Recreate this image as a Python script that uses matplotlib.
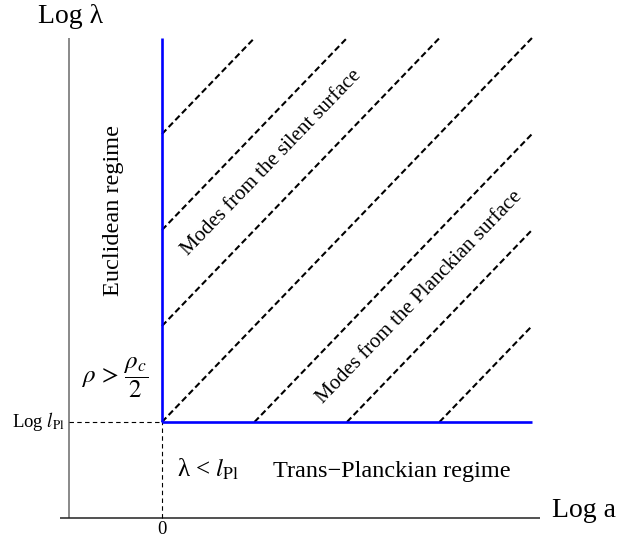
import numpy as np
import matplotlib
matplotlib.use("Agg")
import matplotlib.pyplot as plt

plt.rcParams['font.family'] = ['Liberation Serif', 'DejaVu Serif']
plt.rcParams['mathtext.fontset'] = 'stix'

# box of the diagram (log a from 0 to size, log lambda from 0 to size)
size = 4
# offsets c of the mode lines  log(lambda) = log(a) + c
offsets = [-3, -2, -1, 0, 1, 2, 3]
axis_origin = -1

fig = plt.figure(figsize=(6.19, 5.37), dpi=100)
ax = fig.add_axes([0, 0, 1, 1])
ax.set_xlim(-1.751, 4.941)
ax.set_ylim(-1.198, 4.396)
ax.axis('off')

# axes of the diagram
ax.plot([axis_origin, axis_origin], [axis_origin, size], color='#808080', lw=1.3,
        solid_capstyle='butt')
ax.plot([-1.1, 4.086], [axis_origin, axis_origin], color='#222222', lw=1.1,
        solid_capstyle='butt')

# mode lines
for c in offsets:
    x0 = max(0, -c)
    x1 = min(size, size - c)
    ax.plot([x0, x1], [x0 + c, x1 + c], color='black', lw=1.5,
            linestyle=(0, (3, 1.6)))

# Planck marks
ax.plot([axis_origin, 0], [0, 0], color='black', lw=0.8, linestyle=(0, (4, 3)))
ax.plot([0, 0], [axis_origin, 0], color='black', lw=0.8, linestyle=(0, (4, 3)))

# regime borders
ax.plot([0, 0], [0, size], color='blue', lw=1.9, solid_capstyle='butt')
ax.plot([0, size], [0, 0], color='blue', lw=1.9, solid_capstyle='butt')

ang = np.degrees(np.arctan2(96, 92.5))

ax.text(-1.341, 4.156, 'Log λ', fontsize=20, ha='left', va='baseline')
ax.text(4.216, -0.99, 'Log a', fontsize=20, ha='left', va='baseline')
ax.text(-1.05, 0, r'Log $l_{\mathrm{Pl}}$', fontsize=13.5, ha='right', va='center')
ax.text(0, -1.03, '0', fontsize=13.5, ha='center', va='top')

ax.text(-0.519, 2.198, 'Euclidean regime', fontsize=17.5, rotation=90,
        ha='center', va='center')
ax.text(1.189, 2.698, 'Modes from the silent surface', fontsize=15,
        rotation=ang, rotation_mode='anchor', ha='center', va='center')
ax.text(2.789, 1.297, 'Modes from the Planckian surface', fontsize=15,
        rotation=ang, rotation_mode='anchor', ha='center', va='center')
ax.text(-0.508, 0.458, r'$\rho\,>\,\dfrac{\rho_c}{2}$', fontsize=18,
        ha='center', va='center')
ax.text(0.162, -0.573, r'λ < $l_{\mathrm{Pl}}$', fontsize=18,
        ha='left', va='baseline')
ax.text(1.2, -0.573, 'Trans−Planckian regime', fontsize=17.5,
        ha='left', va='baseline')

fig.savefig('out.png', dpi=100)
